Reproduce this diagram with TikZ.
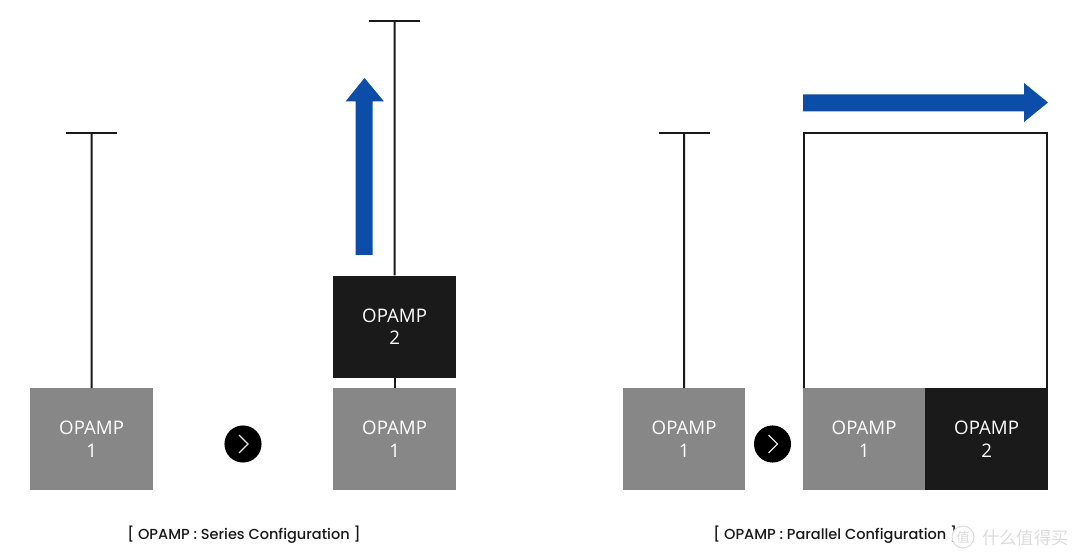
\documentclass[tikz,border=0pt]{standalone}
\usepackage{fontspec}
\setmainfont{Open Sans}
\newfontfamily\capfont{Poppins Medium}
\newfontfamily\cjk{Noto Sans CJK SC}
\definecolor{grayamp}{HTML}{878787}
\definecolor{darkamp}{HTML}{1A1A1A}
\definecolor{bluearr}{HTML}{0B4DA8}
\definecolor{wm}{HTML}{DCDCDC}
\tikzset{
  x=0.75pt,y=-0.75pt,
  ampbox/.style={draw=none,minimum width=92pt,minimum height=76.5pt,inner sep=0pt,text=white,align=center,font=\fontsize{14pt}{17pt}\selectfont,anchor=north west},
  grayamp box/.style={ampbox,fill=grayamp},
  darkamp box/.style={ampbox,fill=darkamp},
  wire/.style={draw=black!90,line width=1.5pt},
  bigarrow/.style={fill=bluearr,draw=none},
  nextdot/.style={circle,fill=black,minimum size=27.8pt,inner sep=0pt},
  chev/.style={draw=white!90!black,line width=0.9pt},
  captext/.style={font=\capfont\fontsize{10.9pt}{14pt}\selectfont,text=black!90,inner sep=0pt},
  wmark/.style={font=\cjk\fontsize{13pt}{16pt}\selectfont,text=wm,inner sep=0pt}
}
\begin{document}
\begin{tikzpicture}
\useasboundingbox (0,0) rectangle (1080,559);
% left series: before
\node[grayamp box] (a1) at (30,388) {OPAMP\\1};
\coordinate (a1top) at (91.5,133);
\coordinate (a1l) at (66,133);
\coordinate (a1r) at (117,133);
\draw[wire] (a1l) -- (a1r);
\draw[wire] (a1top) -- (a1.north);
% arrow dot 1
\node[nextdot] (d1) at (243,444) {};
\draw[chev] ([shift={(-4,-9)}]d1.center) -- ([shift={(5,0)}]d1.center) -- ([shift={(-4,9)}]d1.center);
% series: after
\node[grayamp box] (b1) at (333,388) {OPAMP\\1};
\node[darkamp box] (b2) at (333,275.5) {OPAMP\\2};
\coordinate (b2top) at (394.5,21);
\coordinate (b2l) at (369,21);
\coordinate (b2r) at (420,21);
\draw[wire] (b2l) -- (b2r);
\draw[wire] (b2top) -- (b2.north);
\draw[wire] (b2.south) -- (b1.north);
\fill[bigarrow] (355.5,255) -- (372.5,255) -- (372.5,101.5) -- (384,101.5) -- (364.5,78) -- (345.5,101.5) -- (355.5,101.5) -- cycle;
\node[captext,anchor=base west] (c1) at (127,539) {[ OPAMP : Series Configuration ]};
% parallel: before
\node[grayamp box] (e1) at (622.5,388) {OPAMP\\1};
\coordinate (e1top) at (684,133);
\coordinate (e1l) at (659,133);
\coordinate (e1r) at (710,133);
\draw[wire] (e1l) -- (e1r);
\draw[wire] (e1top) -- (e1.north);
\node[nextdot] (d2) at (772.5,444) {};
\draw[chev] ([shift={(-4,-9)}]d2.center) -- ([shift={(5,0)}]d2.center) -- ([shift={(-4,9)}]d2.center);
% parallel: after
\node[grayamp box] (f1) at (802.5,388) {OPAMP\\1};
\node[darkamp box] (f2) at (925,388) {OPAMP\\2};
\coordinate (ftl) at (804,133);
\coordinate (ftr) at (1046.5,133);
\draw[wire] (ftl |- f1.north) -- (ftl) -- (ftr) -- (ftr |- f2.north);
\fill[bigarrow] (803,94.5) -- (1024,94.5) -- (1024,83) -- (1048,102.5) -- (1024,122) -- (1024,111.5) -- (803,111.5) -- cycle;
\node[captext,anchor=base west] (c2) at (713,539) {[ OPAMP : Parallel Configuration ]};
% watermark
\node[wmark,anchor=base west] (w) at (982,544) {什么值得买};
\draw[wm,line width=0.8pt,fill=white] (963,537) circle (11);
\node[wmark,font=\cjk\fontsize{10pt}{12pt}\selectfont] (w2) at (963,537) {值};
\end{tikzpicture}
\end{document}
